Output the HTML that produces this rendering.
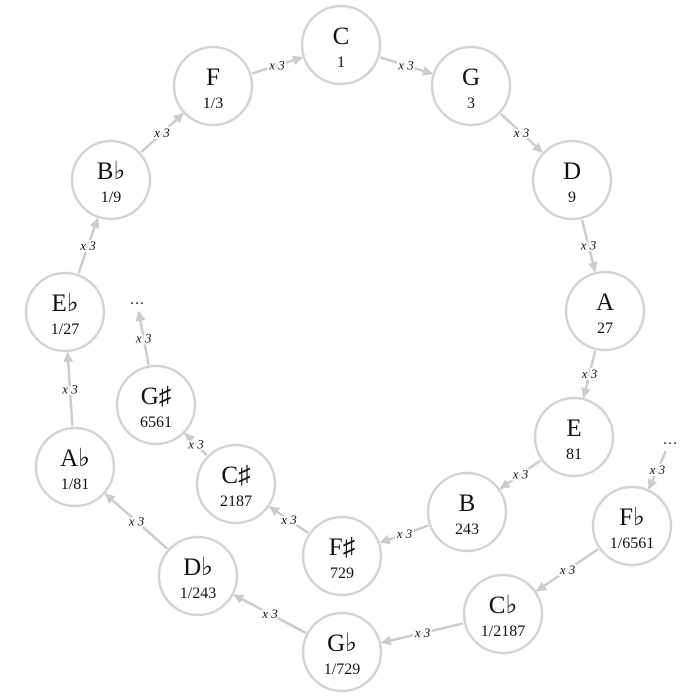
<!DOCTYPE html>
<html><head><meta charset="utf-8"><style>
html,body{margin:0;padding:0;background:#fff;}
svg{display:block;}
text{font-family:"Liberation Serif",serif;fill:#111;}
</style></head><body>
<svg id="s" width="700" height="700" viewBox="0 0 700 700" xmlns="http://www.w3.org/2000/svg">
<defs><marker id="a" viewBox="0 0 10 10" refX="9" refY="5" markerWidth="4" markerHeight="4" orient="auto"><path d="M0,0 L10,5 L0,10 z" fill="#ccc"/></marker></defs>
<g id="e"></g><g id="n"></g>
</svg>
<script>
var N={C:[341,45,"C","1"],G:[471,86,"G","3"],D:[572,180,"D","9"],A:[605,311,"A","27"],E:[574,437,"E","81"],B:[467,512,"B","243"],Fs:[342,556,"F♯","729"],Cs:[236,484,"C♯","2187"],Gs:[156,405,"G♯","6561"],
F:[213,86,"F","1/3"],Bb:[111,180,"B♭","1/9"],Eb:[65,312,"E♭","1/27"],Ab:[75,467,"A♭","1/81"],Db:[198,576,"D♭","1/243"],Gb:[342,652,"G♭","1/729"],Cb:[503,614,"C♭","1/2187"],Fb:[632,526,"F♭","1/6561"],
d1:[137,302,"…",null],d2:[670,442,"…",null]};
var E=[["F","C"],["C","G"],["G","D"],["D","A"],["A","E"],["E","B"],["B","Fs"],["Fs","Cs"],["Cs","Gs"],["Gs","d1"],["Eb","Bb"],["Bb","F"],["Ab","Eb"],["Db","Ab"],["Gb","Db"],["Cb","Gb"],["Fb","Cb"],["d2","Fb"]];
var ns="http://www.w3.org/2000/svg",eg=document.getElementById("e"),ng=document.getElementById("n");
function el(t,a,p,txt){var x=document.createElementNS(ns,t);for(var k in a)x.setAttribute(k,a[k]);if(txt)x.textContent=txt;p.appendChild(x);return x;}
function r(k){return N[k][3]===null?9:40;}
E.forEach(function(p){var a=N[p[0]],b=N[p[1]],dx=b[0]-a[0],dy=b[1]-a[1],L=Math.hypot(dx,dy),ux=dx/L,uy=dy/L;
var x1=a[0]+ux*(r(p[0])+1),y1=a[1]+uy*(r(p[0])+1),x2=b[0]-ux*(r(p[1])+1),y2=b[1]-uy*(r(p[1])+1);
el("line",{x1:x1,y1:y1,x2:x2,y2:y2,stroke:"#ccc","stroke-width":2.5,"marker-end":"url(#a)"},eg);
var mx=(x1+x2)/2,my=(y1+y2)/2;
el("text",{x:mx,y:my+4,"text-anchor":"middle","font-size":13,"font-style":"italic",stroke:"#fff","stroke-width":4,"paint-order":"stroke"},eg,"x 3");});
for(var k in N){var v=N[k];
if(v[3]===null){el("text",{x:v[0],y:v[1]+2,"text-anchor":"middle","font-size":15},ng,"…");continue;}
el("circle",{cx:v[0],cy:v[1],r:39,fill:"#fff",stroke:"#d3d3d3","stroke-width":2.5},ng);
el("text",{x:v[0],y:v[1]-1,"text-anchor":"middle","font-size":25},ng,v[2]);
el("text",{x:v[0],y:v[1]+22,"text-anchor":"middle","font-size":16},ng,v[3]);}
</script>
</body></html>
